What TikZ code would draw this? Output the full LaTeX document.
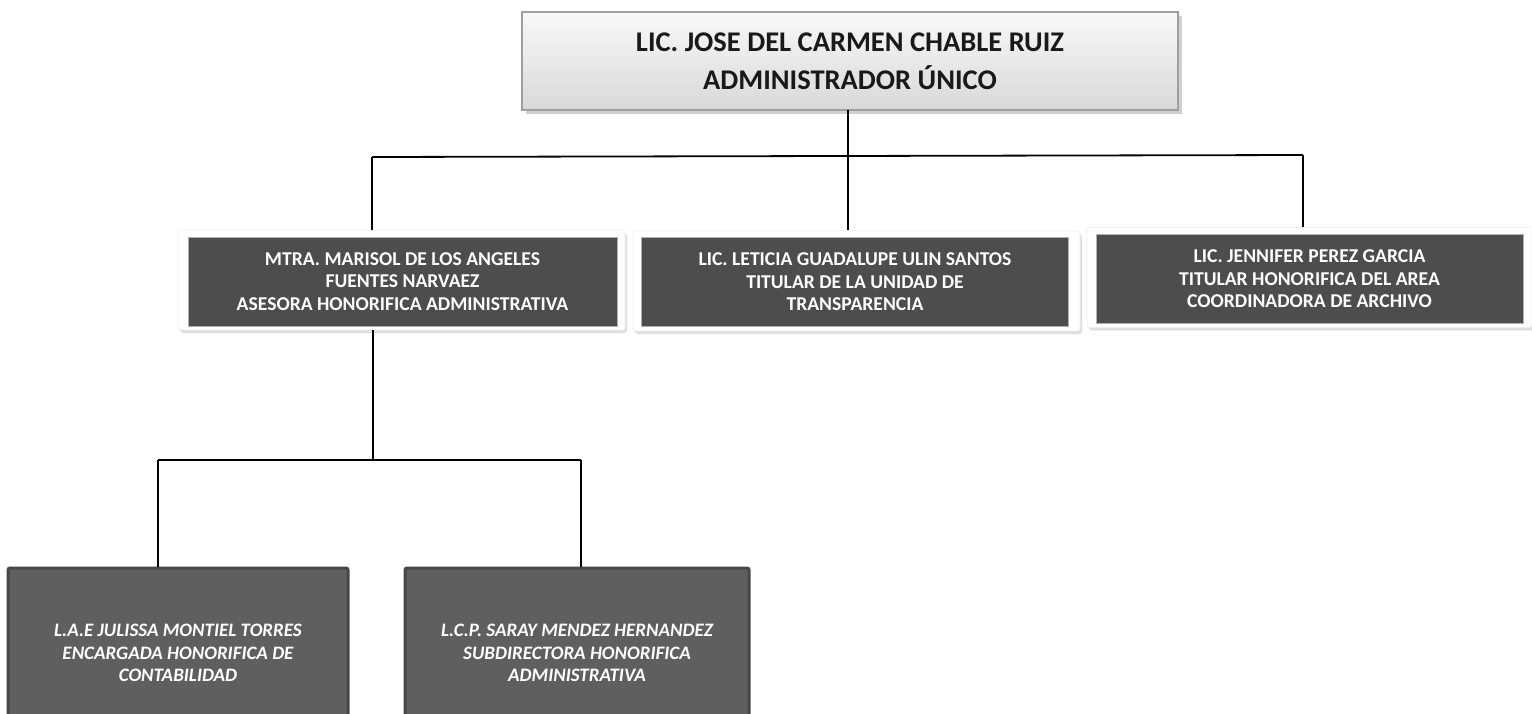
\documentclass[tikz,border=0pt]{standalone}
\usepackage{fontspec}
\setmainfont{Carlito}
\usetikzlibrary{shadows,positioning}
\definecolor{darkbox}{HTML}{4D4D4D}
\definecolor{botbox}{HTML}{5F5F5F}
\definecolor{botedge}{HTML}{474747}
\tikzset{
  topbox/.style={draw=gray!75, line width=1.4pt, top color=white!95!gray, bottom color=gray!30,
    minimum width=656pt, minimum height=98pt, align=center,
    font=\fontsize{28.5}{38}\selectfont\bfseries, text=black!90,
    drop shadow={shadow xshift=4pt, shadow yshift=-4pt, fill=gray!60, opacity=0.6}},
  frame/.style={draw=gray!12, line width=0.8pt, fill=white, rounded corners=3pt,
    drop shadow={shadow xshift=2pt, shadow yshift=-3pt, fill=gray!50, opacity=0.5}},
  midbox/.style={fill=darkbox, draw=gray!60, line width=0.5pt, align=center, text=white,
    font=\fontsize{19.6}{22.5}\selectfont\bfseries},
  lowbox/.style={fill=botbox, draw=botedge, line width=3pt, rounded corners=2pt, align=center, text=white,
    font=\fontsize{19}{22.5}\selectfont\bfseries\itshape},
  link/.style={draw=black, line width=1.8pt}
}
\begin{document}
\begin{tikzpicture}[x=1pt,y=-1pt]
\useasboundingbox (0,0) rectangle (1532,713);
\clip (0,0) rectangle (1532,713);
\fill[white] (0,0) rectangle (1532,713);

% top box
\node[topbox] (top) at (850,61) {LIC. JOSE DEL CARMEN CHABLE RUIZ\\ADMINISTRADOR ÚNICO};

% middle frames
\node[frame, minimum width=447pt, minimum height=100pt] (f1) at (401.5,280) {};
\node[frame, minimum width=447pt, minimum height=100pt] (f2) at (856.5,281) {};
\node[frame, minimum width=445pt, minimum height=100pt] (f3) at (1309.5,277.5) {};

\node[midbox, minimum width=429pt, minimum height=89pt] (m1) at (402.5,281.5)
  {MTRA. MARISOL DE LOS ANGELES\\FUENTES NARVAEZ\\ASESORA HONORIFICA ADMINISTRATIVA};
\node[midbox, minimum width=427pt, minimum height=89pt] (m2) at (855,282)
  {LIC. LETICIA GUADALUPE ULIN SANTOS\\TITULAR DE LA UNIDAD DE\\TRANSPARENCIA};
\node[midbox, minimum width=427pt, minimum height=89pt] (m3) at (1309.5,279)
  {LIC. JENNIFER PEREZ GARCIA\\TITULAR HONORIFICA DEL AREA\\COORDINADORA DE ARCHIVO};

% bottom boxes
\node[lowbox, minimum width=340pt, minimum height=170pt] (b1) at (178,653)
  {L.A.E JULISSA MONTIEL TORRES\\ENCARGADA HONORIFICA DE\\CONTABILIDAD};
\node[lowbox, minimum width=344pt, minimum height=170pt] (b2) at (577,653)
  {L.C.P. SARAY MENDEZ HERNANDEZ\\SUBDIRECTORA HONORIFICA\\ADMINISTRATIVA};

% connectors
\coordinate (t0) at (848,110);
\coordinate (hL) at (372,157);
\coordinate (hC) at (848,157);
\coordinate (hR) at (1303,155);
\draw[link] (t0) -- (hC);
\draw[link] (hL) -- (hR);
\draw[link] (hL) -- (372,230);
\draw[link] (hC) -- (848,230);
\draw[link] (hR) -- (1303,227);

\coordinate (s0) at (373,330);
\coordinate (sJ) at (373,460);
\coordinate (sL) at (158,460);
\coordinate (sR) at (581,460);
\draw[link] (s0) -- (sJ);
\draw[link] (sL) -- (sR);
\draw[link] (sL) -- (158,567);
\draw[link] (sR) -- (581,567);
\end{tikzpicture}
\end{document}
